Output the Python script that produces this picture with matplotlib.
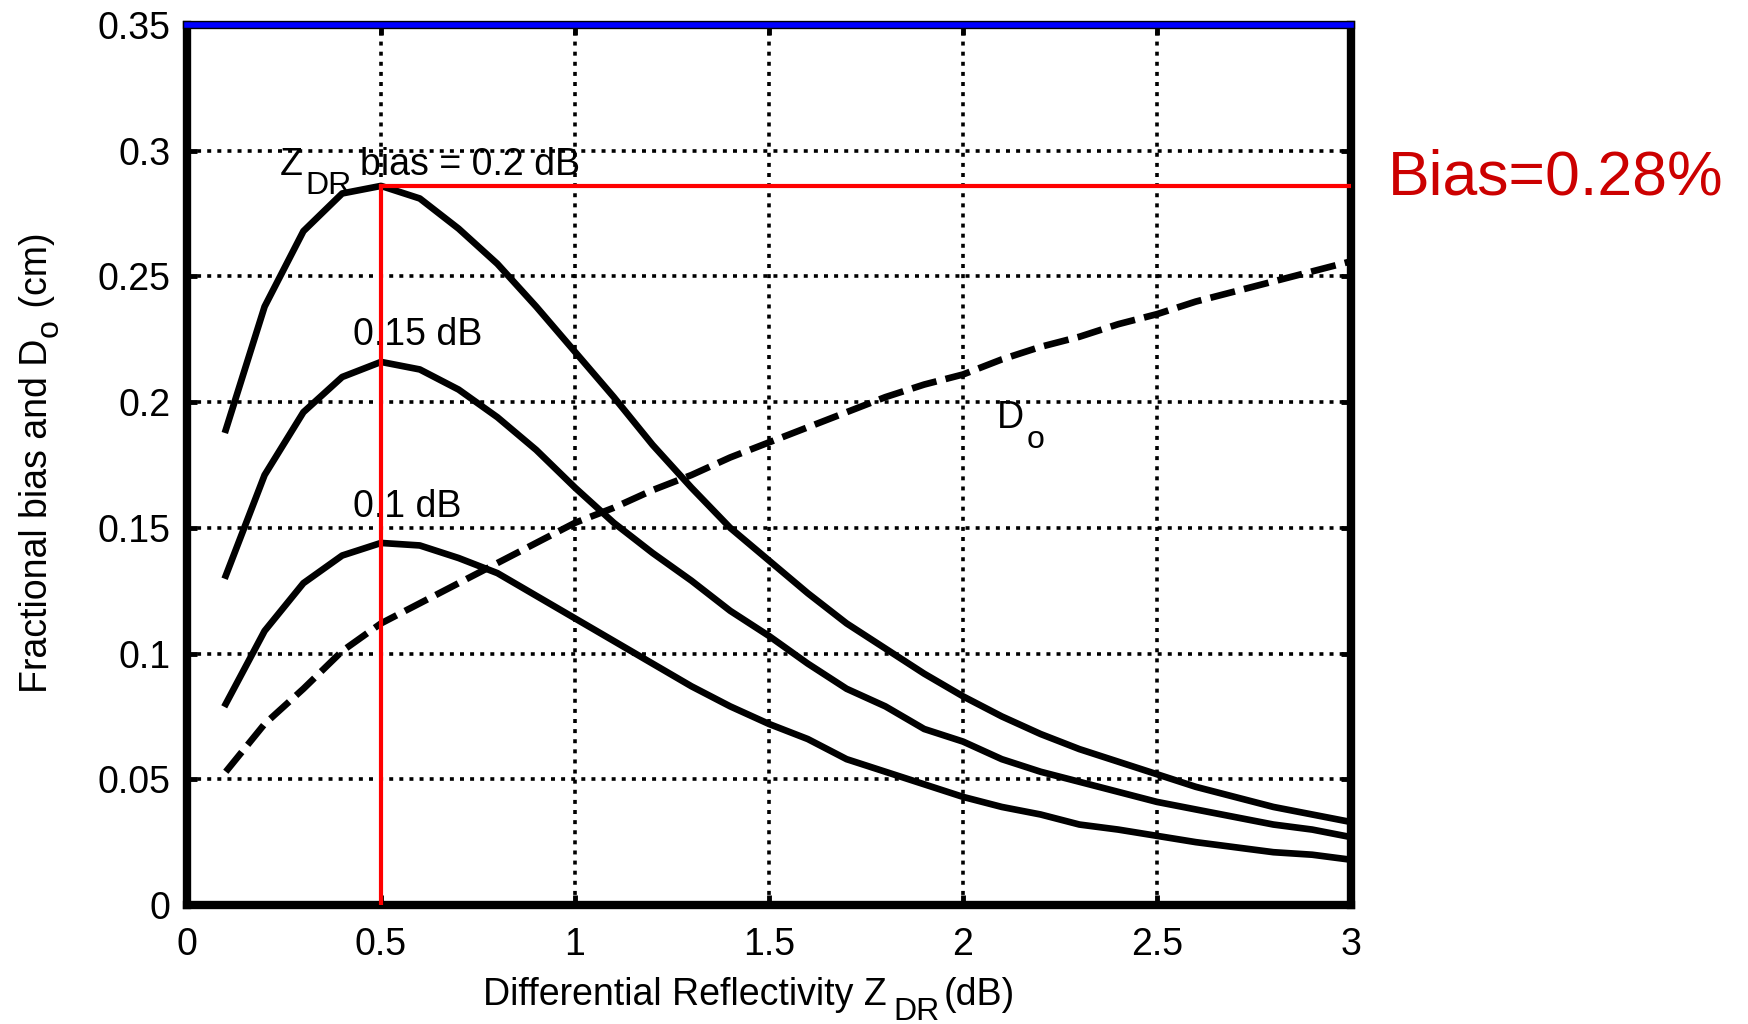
import matplotlib
matplotlib.use("Agg")
import matplotlib.pyplot as plt

plt.rcParams["font.family"] = ["Liberation Sans", "DejaVu Sans"]

# Differential reflectivity Z_DR (dB)
zdr = [0.1, 0.2, 0.3, 0.4, 0.5, 0.6, 0.7, 0.8, 0.9, 1.0,
       1.1, 1.2, 1.3, 1.4, 1.5, 1.6, 1.7, 1.8, 1.9, 2.0,
       2.1, 2.2, 2.3, 2.4, 2.5, 2.6, 2.7, 2.8, 2.9, 3.0]

# fractional bias for Z_DR bias = 0.2 dB
bias_020 = [0.189, 0.238, 0.268, 0.283, 0.286, 0.281, 0.269, 0.255, 0.238, 0.220,
            0.202, 0.183, 0.166, 0.150, 0.137, 0.124, 0.112, 0.102, 0.092, 0.083,
            0.075, 0.068, 0.062, 0.057, 0.052, 0.047, 0.043, 0.039, 0.036, 0.033]

# fractional bias for Z_DR bias = 0.15 dB
bias_015 = [0.131, 0.171, 0.196, 0.210, 0.216, 0.213, 0.205, 0.194, 0.181, 0.166,
            0.152, 0.140, 0.129, 0.117, 0.107, 0.096, 0.086, 0.079, 0.070, 0.065,
            0.058, 0.053, 0.049, 0.045, 0.041, 0.038, 0.035, 0.032, 0.030, 0.027]

# fractional bias for Z_DR bias = 0.1 dB
bias_010 = [0.080, 0.109, 0.128, 0.139, 0.144, 0.143, 0.138, 0.132, 0.123, 0.114,
            0.105, 0.096, 0.087, 0.079, 0.072, 0.066, 0.058, 0.053, 0.048, 0.043,
            0.039, 0.036, 0.032, 0.030, 0.0275, 0.025, 0.023, 0.021, 0.020, 0.018]

# median drop diameter D_o (cm)
d_o = [0.053, 0.072, 0.086, 0.101, 0.112, 0.120, 0.128, 0.136, 0.144, 0.152,
       0.158, 0.165, 0.171, 0.178, 0.184, 0.190, 0.196, 0.202, 0.207, 0.211,
       0.217, 0.222, 0.226, 0.231, 0.235, 0.240, 0.244, 0.248, 0.252, 0.256]

peak_x = 0.5
peak_bias = 0.286

x_ticks = [0, 0.5, 1, 1.5, 2, 2.5, 3]
x_tick_labels = ["0", "0.5", "1", "1.5", "2", "2.5", "3"]
y_ticks = [0, 0.05, 0.1, 0.15, 0.2, 0.25, 0.3, 0.35]
y_tick_labels = ["0", "0.05", "0.1", "0.15", "0.2", "0.25", "0.3", "0.35"]

FS = 27
SUB_FS = 23


def sub_text(ax, x, y, pieces, drop, gaps, transform=None, zorder=2):
    """Main/subscript/main... pieces, with big, low subscripts like the original."""
    transform = transform if transform is not None else ax.transData
    first = ax.text(x, y, pieces[0], fontsize=FS, transform=transform,
                    va="baseline", ha="left", zorder=zorder, clip_on=False)
    prev = first
    for i, (s, gap) in enumerate(zip(pieces[1:], gaps), 1):
        is_sub = i % 2 == 1
        prev = ax.annotate(s, xy=(1, 0), xycoords=(prev, first),
                           xytext=(gap, -drop if is_sub else 0), textcoords="offset points",
                           fontsize=SUB_FS if is_sub else FS, va="bottom", ha="left",
                           zorder=zorder, annotation_clip=False)
    return first


def sub_text_vertical(fig, ax, x, y, pieces, drop, gaps):
    """Same as sub_text but rotated 90 degrees (y label), in figure coords."""
    first = fig.text(x, y, pieces[0], fontsize=FS, rotation=90, ha="right", va="bottom")
    prev = first
    for i, (s, gap) in enumerate(zip(pieces[1:], gaps), 1):
        is_sub = i % 2 == 1
        prev = ax.annotate(s, xy=(1, 1), xycoords=(first, prev),
                           xytext=(drop if is_sub else 0, gap), textcoords="offset points",
                           fontsize=SUB_FS if is_sub else FS, rotation=90,
                           ha="right", va="bottom", annotation_clip=False)
    return first


fig = plt.figure(figsize=(17.48, 10.24), dpi=100)
ax = fig.add_axes([187 / 1748, 1 - 905 / 1024, (1351 - 187) / 1748, (905 - 25) / 1024])

ax.plot(zdr, bias_020, color="black", lw=4.8, zorder=3)
ax.plot(zdr, bias_015, color="black", lw=4.8, zorder=3)
ax.plot(zdr, bias_010, color="black", lw=4.8, zorder=3)
ax.plot(zdr, d_o, color="black", lw=4.8, dashes=(3.8, 1.4), zorder=3)

# red guide lines at the peak of the 0.2 dB curve
ax.plot([peak_x, peak_x], [0, peak_bias], color="#ff0000", lw=3, zorder=5)
ax.plot([peak_x, 3], [peak_bias, peak_bias], color="#ff0000", lw=3, zorder=5)

# blue line along the top
ax.axhline(0.35, color="#0000ff", lw=4, zorder=6, clip_on=False)

ax.set_xlim(0, 3)
ax.set_ylim(0, 0.35)
ax.set_xticks(x_ticks)
ax.set_xticklabels(x_tick_labels)
ax.set_yticks(y_ticks)
ax.set_yticklabels(y_tick_labels)
ax.tick_params(direction="in", length=7.5, width=3.5, labelsize=FS,
               top=True, right=True)
ax.tick_params(axis="y", pad=12)
ax.tick_params(axis="x", pad=16)

ax.set_axisbelow(False)
ax.grid(True, color="black", lw=2.6, dashes=(1.1, 1.7))
for side in ["left", "bottom", "right", "top"]:
    ax.spines[side].set_linewidth(6)

# axis labels with low subscripts
sub_text(ax, 483 / 1748, 1 - 1005 / 1024, ["Differential Reflectivity Z", "DR", "(dB)"],
         drop=10, gaps=[5, 3], transform=fig.transFigure)
sub_text_vertical(fig, ax, 55 / 1748, 1 - 693 / 1024,
                  ["Fractional bias and D", "o", " (cm)"], drop=7, gaps=[1, 1])

# curve annotations
sub_text(ax, 0.240, 0.2904, ["Z", "DR", "bias = 0.2 dB"], drop=13, gaps=[2, 6])
ax.text(0.428, 0.2228, "0.15 dB", fontsize=FS, zorder=2)
ax.text(0.428, 0.1543, "0.1 dB", fontsize=FS, zorder=2)
sub_text(ax, 2.088, 0.1897, ["D", "o"], drop=14, gaps=[2])

ax.text(3.095, 0.2824, "Bias=0.28%", fontsize=45, color="#cc0000", clip_on=False)

fig.savefig("out.png", dpi=100)
